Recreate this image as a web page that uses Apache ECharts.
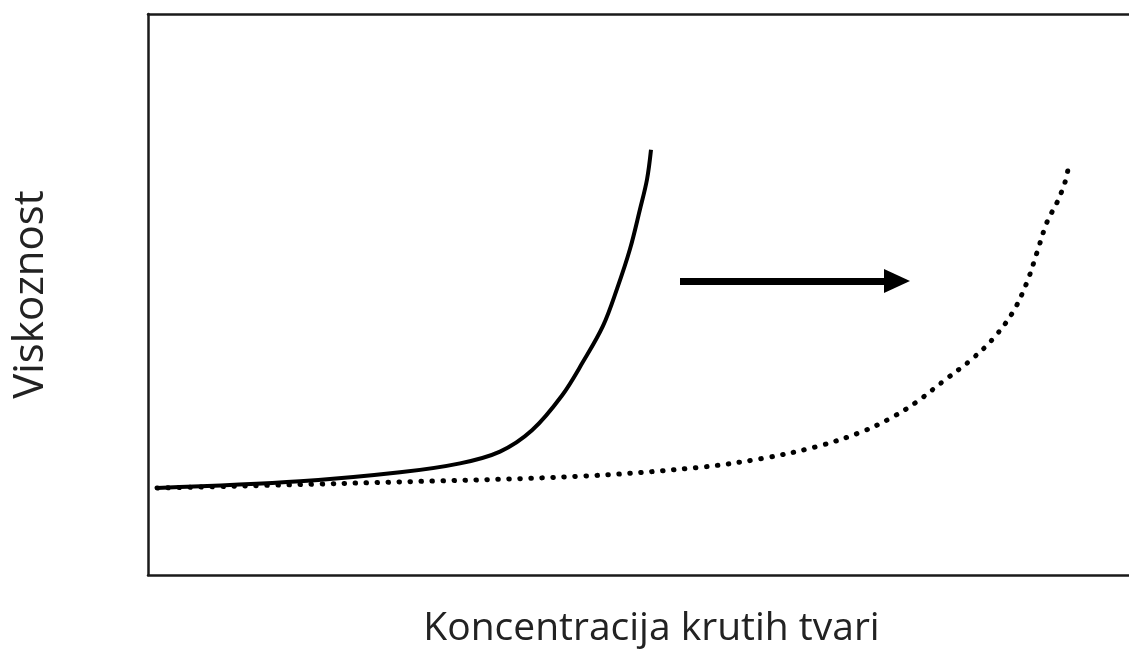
<!DOCTYPE html>
<html>
<head>
<meta charset="utf-8">
<script src="https://cdn.jsdelivr.net/npm/echarts@6/dist/echarts.min.js"></script>
<style>
  html, body { margin: 0; padding: 0; background: #fff; }
  #chart { width: 1129px; height: 653px; }
</style>
</head>
<body>
<div id="chart"></div>
<script>
// koncentracija (x) i viskoznost (y), procijenjeno sa slike
var punaX = [0.9, 15.2, 25.2, 31.2, 35.2, 38.4, 41.4, 43.5, 45.5, 46.9, 48.2, 49.2, 49.9, 50.3];
var punaY = [15.5, 16.7, 18.3, 19.9, 22.0, 25.8, 32.0, 38.0, 44.4, 51.0, 58.1, 65.2, 70.5, 75.8];

var tockeX = [0.9, 23.2, 43.2, 55.2, 61.5, 66.9, 71.2, 74.2, 76.9, 79.5, 82.2, 84.5, 86.5, 87.9, 88.9, 89.9, 90.9, 91.7, 92.0];
var tockeY = [15.5, 16.5, 17.6, 19.2, 20.8, 22.9, 25.4, 27.9, 30.9, 34.5, 38.2, 42.1, 46.9, 52.2, 57.5, 62.9, 66.4, 70.0, 72.3];

var strelica = [[53.2, 52.4], [74.9, 52.4]];

var nazivX = "Koncentracija krutih tvari";
var nazivY = "Viskoznost";

function spoji(xs, ys) {
    return xs.map(function (x, i) { return [x, ys[i]]; });
}

var rub = { show: true, lineStyle: { color: "#1a1a1a", width: 2.5 } };

var myChart = echarts.init(document.getElementById("chart"));
var option = {
    animation: false,
    grid: { left: 148, right: 0, top: 14, bottom: 76 },
    xAxis: [
        {
            type: "value", min: 0, max: 98.1,
            name: nazivX, nameLocation: "middle", nameGap: 34,
            nameTextStyle: { fontFamily: "Open Sans", fontSize: 39, color: "#222", padding: [0, 0, 0, 26] },
            axisLine: rub,
            axisTick: { show: false }, axisLabel: { show: false }, splitLine: { show: false }
        },
        {
            type: "value", min: 0, max: 98.1, position: "top",
            axisLine: rub,
            axisTick: { show: false }, axisLabel: { show: false }, splitLine: { show: false }
        }
    ],
    yAxis: {
        type: "value", min: 0, max: 100,
        name: nazivY, nameLocation: "middle", nameGap: 96,
        nameTextStyle: { fontFamily: "Open Sans", fontSize: 42, color: "#222" },
        axisLine: rub,
        axisTick: { show: false }, axisLabel: { show: false }, splitLine: { show: false }
    },
    series: [
        {
            type: "line", smooth: 0.35, symbol: "none",
            data: spoji(punaX, punaY),
            lineStyle: { color: "#000", width: 4 },
            markLine: {
                silent: true,
                symbol: ["none", "triangle"], symbolSize: [24, 26],
                label: { show: false },
                lineStyle: { color: "#000", width: 7, type: "solid" },
                data: [[{ coord: strelica[0] }, { coord: strelica[1] }]]
            }
        },
        {
            type: "line", smooth: 0.35, symbol: "none",
            data: spoji(tockeX, tockeY),
            lineStyle: { color: "#000", width: 5, type: [0.5, 10.5], cap: "round" }
        }
    ]
};
myChart.setOption(option);
</script>
</body>
</html>
